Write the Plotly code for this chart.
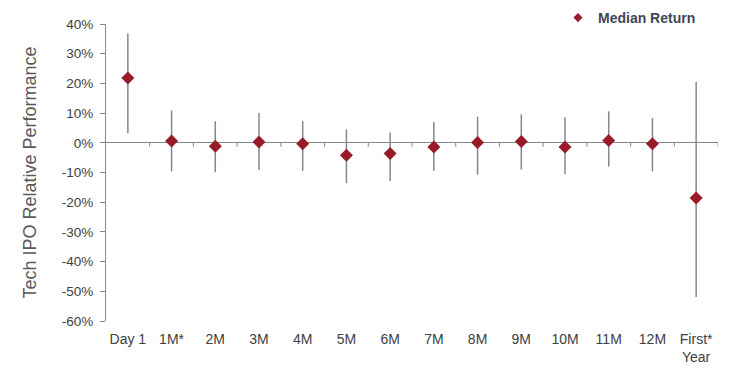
import plotly.graph_objects as go

categories = ["Day 1", "1M*", "2M", "3M", "4M", "5M", "6M", "7M", "8M", "9M", "10M", "11M", "12M", "First*<br>Year"]
median_return = [21.8, 0.6, -1.2, 0.3, -0.3, -4.2, -3.6, -1.4, 0.1, 0.4, -1.4, 0.8, -0.3, -18.6]
range_high = [36.8, 10.9, 7.3, 10.0, 7.3, 4.5, 3.5, 7.0, 8.8, 9.6, 8.6, 10.6, 8.4, 20.5]
range_low = [3.3, -9.6, -9.9, -9.2, -9.4, -13.6, -12.9, -9.4, -10.7, -9.0, -10.6, -8.0, -9.6, -51.9]
y_ticks = [40, 30, 20, 10, 0, -10, -20, -30, -40, -50, -60]
y_tick_labels = [f"{v}%" for v in y_ticks]

xpos = list(range(len(categories)))
err_plus = [h - m for h, m in zip(range_high, median_return)]
err_minus = [m - l for m, l in zip(median_return, range_low)]

RED = "#981b29"
GRAY = "#84888e"
FONT = "Liberation Sans, Arial, sans-serif"

fig = go.Figure()
fig.add_trace(go.Scatter(
    x=xpos, y=median_return, mode="markers",
    marker=dict(symbol="diamond", size=10, color=RED),
    error_y=dict(type="data", symmetric=False, array=err_plus, arrayminus=err_minus,
                 color=GRAY, thickness=1.5, width=0),
    showlegend=False, hoverinfo="skip",
))
fig.add_trace(go.Scatter(
    x=[None], y=[None], mode="markers", name="Median Return",
    marker=dict(symbol="diamond", size=7, color=RED),
))

shapes = []
for i in range(len(categories)):
    shapes.append(dict(type="line", xref="x", yref="y", ysizemode="pixel", yanchor=0,
                       x0=i + 0.5, x1=i + 0.5, y0=0, y1=-4,
                       line=dict(color=GRAY, width=1)))

fig.update_layout(
    width=734, height=376,
    margin=dict(l=106, r=16, t=24, b=55, autoexpand=False),
    paper_bgcolor="white", plot_bgcolor="white",
    font=dict(family=FONT, color="#404040"),
    shapes=shapes,
    legend=dict(x=558 / 734, y=1 - 18 / 376, xref="container", yref="container",
                xanchor="left", yanchor="middle",
                font=dict(size=14, color="#3e4756", family=FONT, weight="bold"),
                bgcolor="rgba(0,0,0,0)", itemwidth=30),
    xaxis=dict(range=[-0.5, len(categories) - 0.5], tickvals=xpos, ticktext=categories,
               showline=False, showgrid=False, zeroline=False, ticks="",
               ticklabelstandoff=8,
               tickfont=dict(size=14, color="#404040"), fixedrange=True),
    yaxis=dict(range=[-60, 40], tickvals=y_ticks, ticktext=y_tick_labels,
               showline=True, linecolor=GRAY, linewidth=1,
               ticks="outside", ticklen=5, tickcolor=GRAY,
               ticklabelstandoff=4,
               showgrid=False, zeroline=True, zerolinecolor=GRAY, zerolinewidth=1,
               tickfont=dict(size=13.5, color="#404040"),
               title=dict(text="Tech IPO Relative Performance", font=dict(size=18, color="#595959"), standoff=20)),
)

fig.write_html("out.html")
